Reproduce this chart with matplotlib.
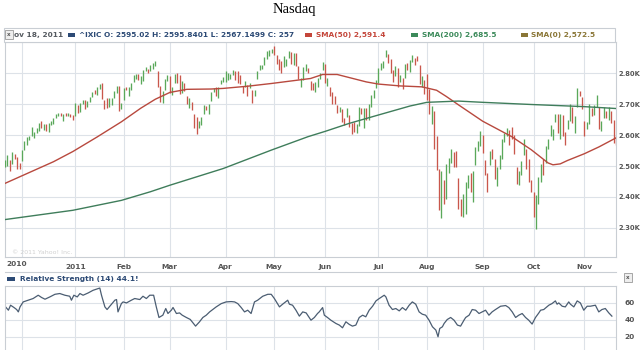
import numpy as np
import matplotlib
matplotlib.use('Agg')
import matplotlib.pyplot as plt
from matplotlib.patches import Rectangle

# ===== Data (daily bars, Nov 19 2010 -> Nov 18 2011) =====
close = [
    2518, 2532, 2495, 2543, 2535, 2525, 2498,  # Nov
    2549, 2579, 2591, 2594, 2598, 2609, 2617, 2637, 2625, 2627, 2617,
    2637, 2643, 2649, 2667, 2671, 2665, 2667, 2662, 2666, 2662, 2653,  # Dec
    2691, 2681, 2702, 2709, 2703, 2707, 2716, 2737, 2735, 2755,
    2765, 2725, 2704, 2689, 2718, 2719, 2739, 2755, 2686, 2700,  # Jan
    2751, 2750, 2753, 2769, 2783, 2797, 2789, 2790, 2809, 2817,
    2804, 2825, 2832, 2834, 2756, 2722, 2737, 2782, 2782,  # Feb
    2737, 2748, 2798, 2784, 2745, 2766, 2752, 2701, 2715, 2700, 2667, 2617,
    2636, 2643, 2692, 2683, 2698, 2736, 2743, 2730, 2756, 2776, 2781,  # Mar
    2789, 2791, 2791, 2799, 2796, 2780, 2771, 2744, 2761, 2760,
    2764, 2735, 2744, 2802, 2820, 2825, 2847, 2869, 2872, 2873,  # Apr
    2864, 2841, 2828, 2815, 2827, 2843, 2871, 2846, 2863, 2828, 2783,
    2783, 2815, 2823, 2803, 2758, 2746, 2761, 2782, 2796, 2835,  # May
    2769, 2773, 2733, 2702, 2701, 2675, 2685, 2644, 2639, 2679, 2631,
    2623, 2616, 2629, 2687, 2670, 2686, 2652, 2688, 2729, 2740, 2774,  # Jun
    2816, 2826, 2834, 2872, 2860, 2802, 2782, 2796, 2762, 2790,
    2765, 2826, 2815, 2835, 2859, 2843, 2840, 2765, 2766, 2756,  # Jul
    2745, 2670, 2693, 2557, 2532, 2358, 2482, 2382, 2493, 2508, 2555, 2523,
    2511, 2380, 2342, 2345, 2446, 2467, 2419, 2480, 2562, 2577, 2579,  # Aug
    2547, 2480, 2473, 2549, 2529, 2467, 2496, 2532, 2573, 2607, 2622,
    2612, 2590, 2538, 2456, 2483, 2516, 2546, 2491, 2480, 2415,  # Sep
    2335, 2404, 2460, 2506, 2479, 2566, 2583, 2604, 2620, 2667, 2614,
    2657, 2604, 2599, 2637, 2699, 2638, 2650, 2738, 2737, 2684,  # Oct
    2606, 2640, 2698, 2686, 2696, 2727, 2622, 2625, 2678, 2657,
    2686, 2639, 2588, 2573,  # Nov
]
high = [
    2521, 2535, 2518, 2546, 2540, 2530, 2509,
    2553, 2582, 2593, 2597, 2626, 2610, 2622, 2638, 2646, 2636, 2637,
    2639, 2645, 2654, 2669, 2672, 2671, 2668, 2671, 2670, 2667, 2665,
    2703, 2698, 2703, 2715, 2713, 2710, 2722, 2738, 2745, 2756,
    2766, 2768, 2712, 2720, 2719, 2720, 2743, 2760, 2760, 2705,
    2753, 2757, 2754, 2770, 2793, 2798, 2798, 2792, 2812, 2819,
    2813, 2828, 2833, 2840, 2807, 2758, 2741, 2783, 2794,
    2792, 2756, 2799, 2802, 2795, 2776, 2767, 2728, 2719, 2708, 2667, 2660,
    2647, 2660, 2696, 2694, 2700, 2738, 2753, 2755, 2757, 2779, 2788,
    2806, 2800, 2799, 2810, 2808, 2806, 2793, 2759, 2775, 2762,
    2769, 2747, 2746, 2806, 2827, 2827, 2853, 2871, 2876, 2879,
    2887, 2860, 2847, 2839, 2855, 2847, 2873, 2870, 2865, 2867, 2822,
    2784, 2819, 2829, 2816, 2776, 2767, 2771, 2786, 2801, 2836,
    2831, 2785, 2755, 2738, 2725, 2698, 2692, 2683, 2656, 2688, 2665,
    2638, 2644, 2637, 2691, 2688, 2689, 2687, 2701, 2730, 2745, 2777,
    2818, 2832, 2839, 2875, 2863, 2845, 2810, 2822, 2817, 2793,
    2784, 2829, 2833, 2844, 2859, 2849, 2855, 2827, 2792, 2777,
    2799, 2749, 2693, 2677, 2598, 2490, 2483, 2454, 2507, 2525, 2556, 2545,
    2550, 2460, 2395, 2410, 2447, 2470, 2479, 2484, 2563, 2582, 2614,
    2599, 2520, 2476, 2549, 2556, 2524, 2496, 2537, 2587, 2608, 2622,
    2617, 2626, 2600, 2496, 2485, 2517, 2588, 2556, 2523, 2455,
    2415, 2406, 2463, 2508, 2522, 2566, 2589, 2634, 2621, 2667, 2667,
    2669, 2666, 2611, 2650, 2701, 2690, 2661, 2753, 2744, 2724,
    2645, 2644, 2700, 2688, 2697, 2729, 2692, 2646, 2690, 2679,
    2690, 2677, 2649, 2596,
]
low = [
    2497, 2500, 2485, 2508, 2523, 2491, 2490,
    2516, 2551, 2568, 2583, 2597, 2592, 2606, 2614, 2624, 2618, 2612,
    2610, 2633, 2636, 2654, 2662, 2662, 2647, 2661, 2662, 2659, 2650,
    2662, 2670, 2674, 2700, 2683, 2690, 2706, 2724, 2732, 2730,
    2748, 2718, 2686, 2688, 2690, 2697, 2719, 2737, 2679, 2684,
    2713, 2745, 2725, 2745, 2773, 2780, 2778, 2765, 2776, 2806,
    2800, 2807, 2815, 2825, 2755, 2706, 2704, 2747, 2774,
    2735, 2730, 2767, 2770, 2734, 2737, 2743, 2699, 2687, 2682, 2622, 2603,
    2622, 2633, 2669, 2680, 2667, 2710, 2739, 2728, 2721, 2765, 2772,
    2771, 2779, 2783, 2793, 2778, 2770, 2765, 2737, 2755, 2727,
    2753, 2703, 2728, 2783, 2812, 2813, 2826, 2845, 2857, 2865,
    2859, 2830, 2810, 2800, 2819, 2825, 2850, 2831, 2826, 2825, 2780,
    2755, 2777, 2807, 2800, 2745, 2745, 2739, 2755, 2783, 2811,
    2768, 2758, 2726, 2700, 2700, 2673, 2676, 2641, 2633, 2657, 2627,
    2603, 2611, 2607, 2631, 2669, 2623, 2649, 2648, 2690, 2719, 2751,
    2768, 2810, 2817, 2853, 2833, 2800, 2772, 2790, 2757, 2773,
    2750, 2784, 2812, 2805, 2836, 2828, 2838, 2764, 2757, 2733,
    2713, 2669, 2636, 2556, 2486, 2357, 2332, 2378, 2395, 2477, 2510, 2498,
    2496, 2361, 2338, 2336, 2346, 2428, 2415, 2384, 2502, 2548, 2565,
    2543, 2472, 2417, 2502, 2523, 2459, 2436, 2492, 2523, 2578, 2597,
    2567, 2589, 2538, 2443, 2440, 2471, 2536, 2491, 2450, 2415,
    2335, 2298, 2376, 2449, 2472, 2511, 2556, 2598, 2585, 2643, 2606,
    2588, 2598, 2568, 2619, 2646, 2638, 2606, 2692, 2725, 2684,
    2598, 2619, 2637, 2663, 2664, 2690, 2620, 2612, 2654, 2655,
    2649, 2639, 2576, 2567,
]

sma50_day = [0, 10, 20, 28, 38, 48, 56, 62, 68, 75, 85, 90, 100, 110, 120,
             126, 131, 137, 142, 149, 154, 163, 172, 178, 182, 187, 197,
             209, 217, 224, 226, 229, 232, 239, 245, 252]
sma50_val = [2444, 2479, 2514, 2547, 2594, 2643, 2687, 2716, 2738, 2748,
             2749, 2751, 2758, 2767, 2777, 2783, 2796, 2796, 2786, 2772,
             2765, 2759, 2756, 2745, 2725, 2698, 2645, 2595, 2553, 2510,
             2504, 2507, 2518, 2540, 2562, 2591]

sma200_day = [0, 28, 48, 60, 68, 90, 110, 125, 132, 142, 154, 167, 174,
              187, 197, 217, 239, 252]
sma200_val = [2327, 2357, 2389, 2417, 2438, 2492, 2552, 2595, 2612, 2638,
              2665, 2694, 2706, 2710, 2706, 2699, 2692, 2686]

rsi_day = [0, 1.4, 2.3, 3.7, 4.8, 5.5, 6.2, 7.5, 9.6, 11.6, 13.7, 15.1, 16.5,
           18.5, 20.6, 22.6, 24.7, 26.7, 27.4, 28.4, 29.8, 30.9, 32.2, 34.3,
           36.3, 38.4, 39.1, 39.8, 41.2, 42.1, 43.9, 45.3, 46, 46.6, 48, 48.7,
           50.1, 52.1, 53.5, 55.6, 56.9, 58.3, 59.7, 61.3, 62.4, 63.5, 65.1,
           66.3, 67.2, 68.6, 69.3, 70.7, 72, 73.1, 74.8, 76.4, 77.5, 78.6,
           80.2, 81.6, 83, 84.4, 85.7, 87.1, 89.2, 91.2, 93.3, 94.7, 96, 97.4,
           98.8, 100.1, 101.5, 102.9, 104.2, 106.3, 108.4, 109.8, 111.1,
           113.2, 114.5, 116.6, 117.3, 118.6, 120, 121.4, 122.8, 124.2, 126.2,
           127.6, 128.9, 129.6, 131, 131.7, 133, 134.4, 136.5, 137.9, 139.2,
           140.6, 142, 143.3, 144.7, 146.1, 147.5, 148.8, 150.2, 151.6, 153,
           154.3, 156.4, 157.1, 158.4, 159.8, 161.2, 162.6, 163.9, 165.3,
           166.7, 168, 169.4, 170.8, 172.1, 173.5, 174.9, 176.3, 177.7, 178.6,
           179.3, 180.4, 181.1, 182.4, 183.8, 185.2, 186.6, 187.9, 189.3, 190,
           191.4, 192.7, 194.1, 195.5, 196.8, 198.2, 199.6, 200.9, 202.3,
           204.4, 206.5, 207.8, 209.2, 210.6, 211.9, 213.3, 214.7, 216, 217.4,
           218.8, 220.2, 220.9, 222.2, 224.3, 225.6, 227, 227.7, 228.4, 229.8,
           231.1, 232.5, 233.2, 234.6, 236, 237.3, 238.7, 240.1, 241.4, 243.5,
           244.9, 246.2, 247.6, 249, 250.3]
rsi_val = [56.1, 51.4, 57.3, 54.6, 52.2, 49.4, 55.3, 61.2, 63.2, 65.2, 69.1,
           66.4, 64.4, 67.1, 70.2, 71.1, 69.1, 67.9, 63.2, 69.1, 67.1, 71.1,
           69.1, 71.8, 74.9, 76.9, 77.6, 69.1, 55.3, 52.2, 58.5, 63.2, 64.0,
           49.4, 59.2, 61.2, 60.0, 63.2, 65.2, 64.0, 67.9, 65.2, 69.1, 69.1,
           55.3, 42.8, 45.5, 53.4, 47.5, 51.4, 54.6, 47.5, 48.2, 45.5, 42.8,
           40.5, 36.5, 32.6, 37.6, 42.8, 45.5, 49.4, 52.2, 55.3, 59.2, 61.2,
           61.6, 61.2, 59.2, 54.6, 49.4, 51.4, 47.5, 61.2, 63.2, 67.9, 70.2,
           70.2, 65.2, 55.3, 58.5, 63.2, 58.5, 57.3, 51.4, 44.4, 49.4, 48.2,
           39.6, 42.8, 47.5, 49.4, 54.5, 45.5, 42.8, 39.6, 35.7, 33.8, 30.6,
           37.7, 34.6, 32.6, 33.8, 42.8, 45.5, 43.6, 51.4, 56.1, 62.4, 65.1,
           69.1, 67.1, 57.3, 52.2, 53.4, 50.6, 54.5, 51.4, 57.3, 61.2, 58.5,
           49.4, 46.7, 45.5, 39.6, 31.8, 27.9, 20.0, 29.8, 31.8, 35.7, 40.4,
           42.8, 39.6, 33.8, 32.6, 39.6, 42.8, 45.5, 52.2, 51.4, 47.5, 49.4,
           51.4, 45.5, 49.4, 52.2, 56.1, 56.9, 54.5, 49.4, 42.8, 45.5, 47.5,
           42.8, 39.6, 35.0, 42.8, 48.3, 51.4, 52.2, 57.3, 59.2, 62.4, 58.5,
           60.0, 56.1, 55.3, 61.2, 58.5, 55.3, 62.4, 60.0, 51.4, 56.1, 56.1,
           57.3, 49.4, 52.2, 53.4, 48.3, 44.4]

month_day = [7, 29, 49, 68, 91, 111, 132, 154, 174, 197, 218, 239]
month_lbl = ['2010', '2011', 'Feb', 'Mar', 'Apr', 'May', 'Jun', 'Jul',
             'Aug', 'Sep', 'Oct', 'Nov']
price_ticks = [2300, 2400, 2500, 2600, 2700, 2800]
price_lbl = ['2.30K', '2.40K', '2.50K', '2.60K', '2.70K', '2.80K']
rsi_ticks = [20, 40, 60]

W, H = 640, 350
GRID = '#dde2e8'
FRAME = '#c9ced4'
NAVY = '#2c4a75'
RED = '#c4463a'
GREEN = '#3b8a5a'
OLIVE = '#8a7636'


def fx(x):
    return x / W


def fy(y):
    return 1 - y / H


fig = plt.figure(figsize=(6.4, 3.5), dpi=100)

# ===== Price panel =====
ax = fig.add_axes([fx(5), fy(257.3), fx(611), (257.3 - 42) / H])
days = np.arange(len(close))
prev = np.concatenate([[close[0]], close[:-1]])
cols = np.where(np.array(close) >= prev, '#5aa85a', '#c9574c')
ax.vlines(days, low, high, colors=cols, linewidth=0.95, zorder=3)
ax.plot(sma50_day, sma50_val, color='#b8493e', linewidth=1.0, zorder=4)
ax.plot(sma200_day, sma200_val, color='#3f7d5b', linewidth=1.0, zorder=4)
ax.set_xlim(0, 252)
ax.set_ylim(2205, 2901)
ax.set_xticks(month_day)
ax.set_xticklabels([''] + month_lbl[1:])
ax.yaxis.tick_right()
ax.set_yticks(price_ticks)
ax.set_yticklabels(price_lbl)
ax.tick_params(length=0, labelsize=5.3, labelcolor='#555555', pad=5)
ax.tick_params(axis='y', labelsize=4.9, pad=1.5)
for lab in ax.get_xticklabels() + ax.get_yticklabels():
    lab.set_fontweight('bold')
ax.grid(True, color=GRID, linewidth=0.8, zorder=0)
for s in ax.spines.values():
    s.set_color(FRAME)
    s.set_linewidth(0.8)
ax.text(3, 2215, '\u00a9 2011 Yahoo! Inc.', fontsize=4.5, color='#d0d0d0')

# ===== RSI panel =====
rax = fig.add_axes([fx(5), fy(353.7), fx(611), (353.7 - 286) / H])
rax.plot(rsi_day, rsi_val, color='#4b5d72', linewidth=0.9)
rax.set_xlim(0, 252)
rax.set_ylim(0, 80)
rax.set_xticks(month_day)
rax.set_xticklabels([])
rax.yaxis.tick_right()
rax.set_yticks(rsi_ticks)
rax.tick_params(length=0, labelsize=5.3, labelcolor='#555555', pad=6)
for lab in rax.get_yticklabels():
    lab.set_fontweight('bold')
rax.grid(True, color=GRID, linewidth=0.8)
for s in rax.spines.values():
    s.set_color(FRAME)
    s.set_linewidth(0.8)

# ===== Header / decorations =====
fig.text(fx(294), fy(9), 'Nasdaq', family='Liberation Serif', fontsize=10.5,
         ha='center', va='center')

fig.patches.append(Rectangle((fx(4), fy(42)), fx(611), 14 / H, transform=fig.transFigure,
                             facecolor='white', edgecolor=FRAME, linewidth=0.8))
# close icons
for (x0, y0) in [(5, 30), (624, 273)]:
    fig.patches.append(Rectangle((fx(x0), fy(y0 + 9)), fx(8), 9 / H, transform=fig.transFigure,
                                 facecolor='#eeeeee', edgecolor='#999999', linewidth=0.6))
    fig.text(fx(x0 + 4), fy(y0 + 4.5), 'x', fontsize=4, color='#555555',
             ha='center', va='center', fontweight='bold')

hy = 34.8
items = [(14, None, 'ov 18, 2011', '#555a60'),
         (79, (68, NAVY), '^IXIC O: 2595.02 H: 2595.8401 L: 2567.1499 C: 257', NAVY),
         (316, (305, RED), 'SMA(50) 2,591.4', RED),
         (422, (411, GREEN), 'SMA(200) 2,685.5', GREEN),
         (531, (521, OLIVE), 'SMA(0) 2,572.5', OLIVE)]
for tx, sq, txt, c in items:
    if sq:
        fig.patches.append(Rectangle((fx(sq[0]), fy(hy + 2)), fx(7), 4 / H,
                                     transform=fig.transFigure, facecolor=sq[1],
                                     edgecolor='none'))
    fig.text(fx(tx), fy(hy), txt, fontsize=5.3, color=c, fontweight='bold',
             va='center', ha='left')

# first month label (cut at the left)
fig.text(fx(6), fy(264.5), month_lbl[0], fontsize=5.3, color='#555555',
         fontweight='bold', va='center', ha='left')

# separator under the date axis
fig.lines.append(plt.Line2D([fx(5), fx(616)], [fy(272), fy(272)], transform=fig.transFigure,
                            color=FRAME, linewidth=0.8))

# RSI legend
fig.patches.append(Rectangle((fx(7), fy(280.5)), fx(8), 4 / H, transform=fig.transFigure,
                             facecolor=NAVY, edgecolor='none'))
fig.text(fx(20), fy(278.5), 'Relative Strength (14) 44.1!', fontsize=5.3, color=NAVY,
         fontweight='bold', va='center', ha='left')

fig.savefig('out.png', dpi=100)
